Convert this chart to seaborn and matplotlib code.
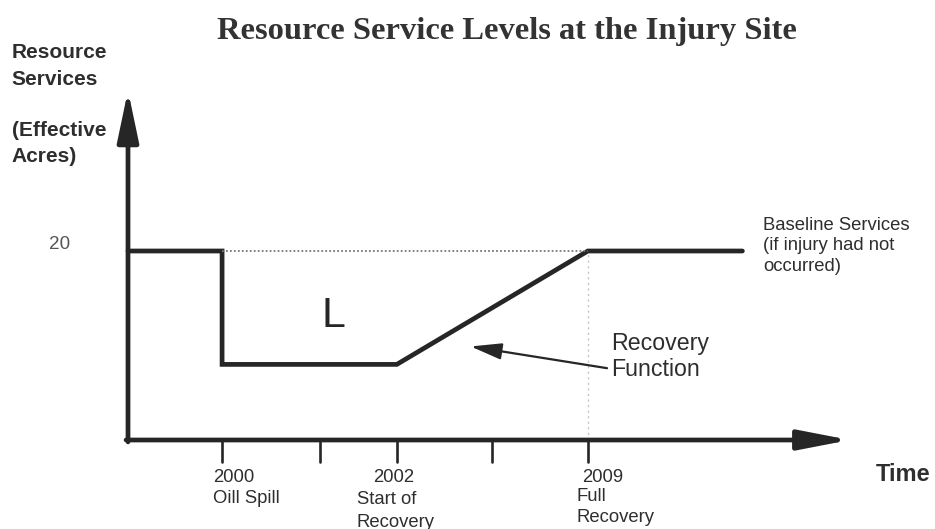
import matplotlib
matplotlib.use("Agg")
import matplotlib.pyplot as plt
import seaborn as sns
import pandas as pd

# ---- data (schematic units) ----
path_x = [0.0, 0.98, 0.98, 2.8, 4.79, 6.4]
path_y = [20, 20, 8, 8, 20, 20]
baseline_level = 20
spill_x = 0.98
full_x = 4.79
tick_positions = [0.98, 2.0, 2.8, 3.79, 4.79]
year_labels = ["2000", "2002", "2009"]
event_labels = ["Oill Spill", "Start of\nRecovery", "Full\nRecovery"]

sns.set_theme(style="white")
plt.rcParams['font.family'] = ['Liberation Sans', 'DejaVu Sans']

W, H = 935, 529
fig = plt.figure(figsize=(W / 100, H / 100), dpi=100)
ax = fig.add_axes([0, 0, 1, 1])
ax.set_xlim(-128 / 96, (W - 128) / 96)
ax.set_ylim(-89 / 9.45, (H - 89) / 9.45)
ax.axis("off")

ink = "#262626"
txt = "#2e2e2e"

df = pd.DataFrame({"x": path_x, "y": path_y})
sns.lineplot(data=df, x="x", y="y", sort=False, estimator=None, ax=ax,
             color=ink, linewidth=3.4, solid_joinstyle="miter")

# dotted baseline and vertical guide
ax.plot([spill_x, full_x], [baseline_level, baseline_level], color="#777777",
        linestyle=(0, (1, 1.2)), linewidth=1.3)
ax.plot([full_x, full_x], [0, baseline_level], color="#c4c4c4",
        linestyle=(0, (1.5, 2.5)), linewidth=1.0)

# axes with arrows
ax.annotate("", xy=(0, 37.0), xytext=(0, -0.2),
            arrowprops=dict(arrowstyle="-|>,head_length=3.1,head_width=0.65",
                            mutation_scale=10, color=ink, lw=3.4,
                            shrinkA=0, shrinkB=0))
ax.annotate("", xy=(7.52, 0), xytext=(-0.02, 0),
            arrowprops=dict(arrowstyle="-|>,head_length=3.1,head_width=0.6",
                            mutation_scale=10, color=ink, lw=3.4,
                            shrinkA=0, shrinkB=0))
for t in tick_positions:
    ax.plot([t, t], [0, -2.35], color=ink, linewidth=1.9)

# tick labels
lab_fs = 13.3
ax.text(0.885, -3.92, year_labels[0], ha="left", va="center", fontsize=lab_fs, color=txt)
ax.text(0.885, -6.14, event_labels[0], ha="left", va="center", fontsize=lab_fs, color=txt)
ax.text(2.552, -3.92, year_labels[1], ha="left", va="center", fontsize=lab_fs, color=txt)
ax.text(2.385, -7.51, event_labels[1], ha="left", va="center", fontsize=lab_fs,
        color=txt, linespacing=1.43)
ax.text(4.729, -3.92, year_labels[2], ha="left", va="center", fontsize=lab_fs, color=txt)
ax.text(4.677, -7.09, event_labels[2], ha="left", va="center", fontsize=lab_fs,
        color=txt, linespacing=1.3)

ax.text(8.354, -3.7, "Time", ha="right", va="center", fontsize=17, fontweight="bold", color=txt)

# y axis label
ax.text(-1.21, 39.6, "Resource\nServices", ha="left", va="center", fontsize=15,
        fontweight="bold", color=txt, linespacing=1.5)
ax.text(-1.21, 31.4, "(Effective\nAcres)", ha="left", va="center", fontsize=15,
        fontweight="bold", color=txt, linespacing=1.5)
ax.text(-0.708, 20.74, "20", ha="center", va="center", fontsize=13.6, color="#555555")

# annotations
ax.text(2.135, 13.1, "L", ha="center", va="center", fontsize=31, color=ink)
ax.text(5.03, 8.84, "Recovery\nFunction", ha="left", va="center", fontsize=16.7,
        color=txt, linespacing=1.19)
ax.annotate("", xy=(3.57, 9.9), xytext=(4.99, 7.6),
            arrowprops=dict(arrowstyle="-|>,head_length=1.9,head_width=0.5",
                            mutation_scale=10, color=ink, lw=1.6,
                            shrinkA=0, shrinkB=0))
ax.text(6.615, 20.53, "Baseline Services\n(if injury had not\noccurred)", ha="left",
        va="center", fontsize=13.3, color=txt, linespacing=1.3)

# title
ax.text((507 - 128) / 96, (440 - 31) / 9.45,
        "Resource Service Levels at the Injury Site", ha="center", va="center",
        fontsize=23.4, fontweight="bold", color="#333333",
        family=["Liberation Serif", "DejaVu Serif"])

fig.savefig("out.png", dpi=100)
